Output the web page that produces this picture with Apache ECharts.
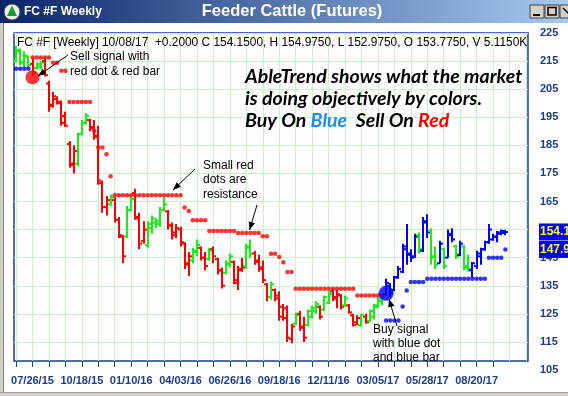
<!DOCTYPE html>
<html><head><meta charset="utf-8">
<script src="https://cdn.jsdelivr.net/npm/echarts@6/dist/echarts.min.js"></script>
<style>html,body{margin:0;padding:0;background:#fff}#c{width:568px;height:396px}</style>
</head><body><div id="c"></div>
<script>
// ---------- DATA ----------
// weekly categories starting 06/28/15 (125 slots incl. right padding)
const firstWeek = [2015, 5, 28];
const slotCount = 125;
const categories = [];
for (let k = 0; k < slotCount; k++) {
  const d = new Date(Date.UTC(firstWeek[0], firstWeek[1], firstWeek[2] + 7 * k));
  const mm = String(d.getUTCMonth() + 1).padStart(2, '0');
  const dd = String(d.getUTCDate()).padStart(2, '0');
  const yy = String(d.getUTCFullYear()).slice(2);
  categories.push(mm + '/' + dd + '/' + yy);
}
const yTicks = [105, 225, 10];

// [open, high, low, close] per week
const ohlc = [
 [215.5,220.5,214.5,219.0],[218.5,219.5,213.5,214.5],[214.5,218.5,213.0,217.0],[216.5,217.0,212.5,213.5],[214.0,216.0,210.0,211.0],
 [212.5,214.5,212.0,214.0],[213.0,215.0,212.0,214.5],[215.0,216.0,209.5,210.0],[207.0,208.0,197.0,199.0],[199.5,204.0,198.5,202.5],
 [201.5,202.5,199.5,200.0],[200.5,201.0,192.0,193.0],[195.5,197.0,191.5,192.0],[185.5,186.5,177.0,178.0],[178.5,185.0,175.0,183.0],
 [178.5,189.5,177.5,189.0],[189.0,194.0,188.5,193.0],[193.0,196.5,192.5,195.5],[194.0,194.5,190.0,191.0],[191.5,194.0,187.0,188.0],
 [188.5,192.0,171.0,172.5],[171.5,172.5,161.0,163.0],[163.0,167.0,160.0,165.5],[164.0,167.5,163.5,166.5],[165.5,166.5,157.5,158.5],
 [158.5,159.5,152.0,153.0],[152.5,153.0,143.0,145.5],[152.5,163.5,152.0,162.0],[162.0,167.0,161.5,166.0],[168.0,169.5,158.5,159.5],
 [159.0,161.0,148.0,150.0],[151.0,158.0,150.0,155.0],[149.5,158.0,148.5,157.0],[155.5,160.0,153.5,159.0],[157.5,159.0,155.5,158.0],
 [157.0,163.0,156.0,162.0],[162.0,166.5,161.5,164.0],[161.5,162.0,155.0,156.5],[156.5,157.5,151.5,153.0],[154.0,157.0,152.0,155.5],
 [155.0,156.0,149.0,150.5],[150.0,150.5,141.0,142.5],[143.0,147.0,138.5,145.5],[144.0,148.5,143.0,147.5],[147.0,151.5,145.5,149.5],
 [148.5,149.0,144.0,145.0],[145.0,147.0,140.5,142.0],[144.5,148.5,144.0,147.5],[148.0,149.0,143.0,145.5],[144.5,145.0,139.0,140.5],
 [140.5,141.5,134.0,135.0],[139.5,144.0,139.0,143.0],[142.5,146.5,141.5,145.5],[143.5,144.0,135.5,137.0],[136.0,142.0,133.5,140.5],
 [141.0,145.0,140.0,141.5],[142.0,150.0,141.0,149.0],[148.5,151.5,145.0,146.5],[146.5,147.5,142.5,143.5],[144.0,146.0,140.0,141.0],
 [141.5,144.0,136.0,137.0],[135.5,136.0,129.5,131.0],[131.0,136.5,130.0,135.5],[133.5,134.0,129.5,130.5],[131.5,133.0,122.5,124.0],
 [127.5,128.5,122.5,123.5],[127.0,128.0,115.0,116.5],[116.0,121.5,114.5,120.5],[121.5,125.5,121.0,124.5],[125.0,126.0,119.0,120.0],
 [120.5,124.0,115.0,116.5],[121.0,126.5,120.5,126.0],[124.0,128.0,123.5,127.0],[126.0,129.5,125.0,128.5],[127.5,128.0,123.0,124.0],
 [126.5,131.5,126.0,131.0],[129.0,133.0,128.5,132.0],[133.0,134.0,129.5,130.5],[131.0,133.5,127.0,132.0],[131.5,132.0,126.5,127.5],
 [128.0,131.5,127.5,130.5],[128.0,128.5,125.0,125.5],[124.5,125.0,120.5,121.0],[122.0,124.5,121.0,123.5],[121.0,125.0,120.5,124.5],
 [124.0,125.0,121.5,122.0],[122.5,126.5,122.0,126.0],[124.0,128.5,123.0,128.0],[127.5,131.0,127.0,130.5],[129.5,131.5,128.0,131.0],
 [132.0,137.5,131.5,136.0],[135.0,136.0,131.0,132.5],[133.5,138.5,133.0,138.0],[138.0,142.0,137.5,141.0],[140.0,150.0,139.5,149.0],
 [148.0,157.0,142.5,146.0],[146.5,148.0,143.5,145.0],[145.5,153.5,145.0,152.5],[153.0,154.0,146.5,148.0],[147.5,159.5,147.0,158.0],
 [157.5,160.5,152.0,154.0],[154.5,155.5,142.5,145.0],[145.5,149.0,141.0,142.5],[143.0,151.0,143.0,150.0],[148.0,148.5,141.0,142.0],
 [145.0,155.0,145.0,153.5],[153.0,155.5,150.5,151.5],[149.0,149.5,144.5,145.5],[146.0,151.0,145.5,150.0],[149.0,149.5,140.5,141.5],
 [142.0,146.0,140.0,141.0],[140.5,143.5,138.0,143.0],[142.0,147.5,141.0,146.5],[145.5,148.5,142.5,148.0],[148.0,151.0,147.5,150.5],
 [150.5,157.0,150.0,155.0],[151.5,153.5,151.0,152.5],[152.5,154.5,150.5,154.0],[153.5,155.0,153.0,154.5],[153.775,154.975,152.975,154.15]
];
// trend colour per bar: r = red, g = green, b = blue
const trend = ('ggggrggrrrrrrrrgggrr' + 'rrrgrrrggrrrgggggrrr' + 'rrrggrrgrrrggrrrggrr' +
               'rrgrrrrrgrrgggrggrrr' + 'grrrgrggggbbbbbbbbgb' + 'bggbgbbgbggbbbbbbbbb').split('');
// red resistance dots
const resistance = [
 null,null,null,null,216.3,216.3,216.3,216.3,216.3,214.4,
 214.4,211.6,211.6,200.4,200.4,200.4,200.4,200.4,200.4,190.1,
 184.2,184.2,181.8,174.0,167.2,167.2,167.2,167.2,167.2,167.2,
 167.2,167.2,167.2,167.2,167.2,167.2,167.2,167.2,167.2,167.2,
 167.2,162.9,161.6,158.3,158.3,158.3,158.3,154.5,154.5,154.5,
 154.5,154.5,154.5,154.5,153.8,153.8,153.8,153.8,153.8,153.8,
 152.6,152.6,146.4,146.4,145.2,143.4,139.9,139.9,133.9,133.9,
 133.9,133.9,133.9,133.9,133.9,133.9,133.9,133.9,133.9,133.9,
 133.9,133.9,133.9,131.5,131.5,131.5,131.5,131.5,131.5,131.5
];
// blue support dots
const support = [
 212.3,212.3,212.3,212.3,null,null,null,null,null,null,
 null,null,null,null,null,null,null,null,null,null,
 null,null,null,null,null,null,null,null,null,null,
 null,null,null,null,null,null,null,null,null,null,
 null,null,null,null,null,null,null,null,null,null,
 null,null,null,null,null,null,null,null,null,null,
 null,null,null,null,null,null,null,null,null,null,
 null,null,null,null,null,null,null,null,null,null,
 null,null,null,null,null,null,null,null,null,null,
 122.6,122.6,122.6,122.6,127.6,133.3,136.3,136.3,136.3,136.3,
 137.5,137.5,137.5,137.5,137.5,137.5,137.5,137.5,137.5,137.5,
 137.5,137.5,137.5,137.5,137.5,145.0,145.0,145.0,145.0,147.93
];
const sellSignal = [[4, 209.2]];
const buySignal = [[90, 132.3]];
const lastValues = [154.15, 147.93];

// ---------- STYLE ----------
const navy = '#1b3b8b';
const gridGreen = '#c8f1c8';
const trendColor = { r: '#ff0000', g: '#14f014', b: '#0000ff' };
const splitColors = ['rgba(0,0,0,0)'];
for (let k = 0; k < 12; k++) splitColors.push(gridGreen);

const chart = echarts.init(document.getElementById('c'));

const toPairs = arr => arr.map((v, i) => v == null ? null : [i, v]).filter(Boolean);

chart.setOption({
  animation: false,
  backgroundColor: '#ffffff',
  grid: [
    { left: 14, right: 40, top: 33, bottom: 26 },
    { left: 16.056, right: 42.056, top: 33, bottom: 35 },
    { left: 14, right: 40, top: 33, bottom: 35, show: true, borderColor: navy, borderWidth: 1.5, backgroundColor: 'rgba(0,0,0,0)' }
  ],
  xAxis: [
    { gridIndex: 0, type: 'category', data: categories, boundaryGap: true, show: false },
    { gridIndex: 1, type: 'category', data: categories, boundaryGap: false,
      axisLine: { show: false },
      axisTick: { show: true, length: 6, interval: (idx) => idx % 4 === 0 && idx <= 116, lineStyle: { color: navy, width: 1 } },
      axisLabel: { interval: (idx) => idx % 12 === 4 && idx <= 112, color: navy, fontWeight: 'bold', fontSize: 11, fontFamily: 'Liberation Sans', margin: 14 },
      splitLine: { show: true, interval: (idx) => idx % 4 === 0, lineStyle: { color: gridGreen, width: 1 } } },
    { gridIndex: 2, type: 'category', data: categories, show: false }
  ],
  yAxis: [
    { gridIndex: 0, type: 'value', min: yTicks[0], max: yTicks[1], interval: yTicks[2], position: 'right',
      axisLine: { show: false }, axisTick: { show: false },
      axisLabel: { color: navy, fontWeight: 'bold', fontSize: 11, fontFamily: 'Liberation Sans', margin: 12 },
      splitLine: { show: true, lineStyle: { color: splitColors, width: 1 } } },
    { gridIndex: 1, type: 'value', min: 0, max: 1, show: false },
    { gridIndex: 2, type: 'value', min: 0, max: 1, show: false }
  ],
  series: [
    { type: 'custom', name: 'bars', xAxisIndex: 0, yAxisIndex: 0, silent: true, z: 3,
      data: ohlc.map((b, i) => [i, b[0], b[1], b[2], b[3]]),
      encode: { x: 0, y: [1, 2, 3, 4] },
      renderItem: function (params, api) {
        const i = api.value(0);
        const o = api.coord([i, api.value(1)]);
        const h = api.coord([i, api.value(2)]);
        const l = api.coord([i, api.value(3)]);
        const c = api.coord([i, api.value(4)]);
        const x = Math.round(h[0]);
        const st = { stroke: trendColor[trend[i]], lineWidth: 2 };
        return { type: 'group', children: [
          { type: 'line', shape: { x1: x, y1: h[1], x2: x, y2: l[1] }, style: st },
          { type: 'line', shape: { x1: x - 3, y1: o[1], x2: x, y2: o[1] }, style: st },
          { type: 'line', shape: { x1: x, y1: c[1], x2: x + 3, y2: c[1] }, style: st }
        ] };
      } },
    { type: 'scatter', name: 'resistance', xAxisIndex: 0, yAxisIndex: 0, silent: true, z: 4,
      symbol: 'circle', symbolSize: 4.5, itemStyle: { color: '#ff0000' }, data: toPairs(resistance) },
    { type: 'scatter', name: 'support', xAxisIndex: 0, yAxisIndex: 0, silent: true, z: 4,
      symbol: 'circle', symbolSize: 4.5, itemStyle: { color: '#0000ff' }, data: toPairs(support) },
    { type: 'scatter', name: 'sell', xAxisIndex: 0, yAxisIndex: 0, silent: true, z: 5,
      symbolSize: 14, itemStyle: { color: '#ff0000' }, data: sellSignal },
    { type: 'scatter', name: 'buy', xAxisIndex: 0, yAxisIndex: 0, silent: true, z: 5,
      symbolSize: 15, itemStyle: { color: '#0000ff' }, data: buySignal }
  ]
});

// ---------- GRAPHICS (frame, title bar, annotations) ----------
const g = [];
function txt(x, y, text, font, fill, align) {
  g.push({ type: 'text', x: x, y: y, z: 20, silent: true,
    style: { text: text, font: font, fill: fill || '#000', align: align || 'left', verticalAlign: 'middle' } });
}
function arrow(x1, y1, x2, y2) {
  g.push({ type: 'line', z: 20, silent: true, shape: { x1: x1, y1: y1, x2: x2, y2: y2 }, style: { stroke: '#000', lineWidth: 1 } });
  const a = Math.atan2(y2 - y1, x2 - x1), L = 8, W = 3.2;
  const bx = x2 - L * Math.cos(a), by = y2 - L * Math.sin(a);
  g.push({ type: 'polygon', z: 20, silent: true, shape: { points: [[x2, y2],
    [bx + W * Math.sin(a), by - W * Math.cos(a)], [bx - W * Math.sin(a), by + W * Math.cos(a)]] }, style: { fill: '#000' } });
}
// window frame
g.push({ type: 'rect', z: 19, silent: true, shape: { x: 0, y: 23, width: 3, height: 373 }, style: { fill: '#d4d0c8' } });
g.push({ type: 'line', z: 19, silent: true, shape: { x1: 3.5, y1: 23, x2: 3.5, y2: 396 }, style: { stroke: '#808080', lineWidth: 1 } });
g.push({ type: 'rect', z: 19, silent: true, shape: { x: 0, y: 393, width: 568, height: 3 }, style: { fill: '#d4d0c8' } });
g.push({ type: 'line', z: 19, silent: true, shape: { x1: 0, y1: 392.5, x2: 568, y2: 392.5 }, style: { stroke: '#a0a0a0', lineWidth: 1 } });
// title bar
g.push({ type: 'rect', z: 19, silent: true, shape: { x: 0, y: 0, width: 568, height: 23 },
  style: { fill: new echarts.graphic.LinearGradient(0, 0, 1, 0, [{ offset: 0, color: '#0a246a' }, { offset: 1, color: '#a6caf0' }]) } });
g.push({ type: 'circle', z: 20, silent: true, shape: { cx: 12, cy: 12, r: 8 }, style: { fill: '#e9ece9', stroke: '#4a4a4a', lineWidth: 1 } });
g.push({ type: 'polygon', z: 21, silent: true, shape: { points: [[12, 5.5], [17, 16], [7, 16]] }, style: { fill: '#1f9a32' } });
txt(24, 12, 'FC #F Weekly', 'bold 12px "Liberation Sans"', '#ffffff');
txt(292, 11.5, 'Feeder Cattle (Futures)', 'bold 16.5px "Liberation Sans"', '#ffffff', 'center');
[530, 545].forEach(function (bx) {
  g.push({ type: 'rect', z: 20, silent: true, shape: { x: bx, y: 5, width: 14, height: 13 }, style: { fill: '#d4d0c8', stroke: '#404040', lineWidth: 1 } });
});
g.push({ type: 'rect', z: 20, silent: true, shape: { x: 560, y: 5, width: 14, height: 13 }, style: { fill: '#d4d0c8', stroke: '#404040', lineWidth: 1 } });
g.push({ type: 'line', z: 21, silent: true, shape: { x1: 533, y1: 15, x2: 540, y2: 15 }, style: { stroke: '#000', lineWidth: 2 } });
g.push({ type: 'rect', z: 21, silent: true, shape: { x: 548, y: 7.5, width: 8, height: 7.5 }, style: { fill: 'none', stroke: '#000', lineWidth: 1.5 } });
g.push({ type: 'line', z: 21, silent: true, shape: { x1: 563, y1: 8, x2: 570, y2: 15 }, style: { stroke: '#000', lineWidth: 1.5 } });

// header line inside plot
txt(17, 43, 'FC #F [Weekly] 10/08/17  +0.2000 C 154.1500, H 154.9750, L 152.9750, O 153.7750, V 5.1150K', '11.9px "Liberation Sans"', '#000');
// sell annotation
txt(70, 57, 'Sell signal with', '12px "Liberation Sans"');
txt(70, 72, 'red dot & red bar', '12px "Liberation Sans"');
arrow(68, 55, 38, 76);
// resistance annotation
txt(203, 166, 'Small red', '12px "Liberation Sans"');
txt(203, 180, 'dots are', '12px "Liberation Sans"');
txt(203, 195, 'resistance', '12px "Liberation Sans"');
arrow(195, 169, 173, 190);
arrow(257, 205, 249.5, 230);
// buy annotation
txt(373, 330, 'Buy signal', '12px "Liberation Sans"');
txt(373, 344, 'with blue dot', '12px "Liberation Sans"');
txt(373, 358, 'and blue bar', '12px "Liberation Sans"');
arrow(397, 326, 389, 299);
// headline
const hf = 'italic bold 19.5px Lato';
txt(245, 77, 'AbleTrend shows what the market', hf);
txt(245, 99, 'is doing objectively by colors.', hf);
g.push({ type: 'text', x: 245, y: 121, z: 20, silent: true, style: {
  text: '{a|Buy On }{b|Blue}{a|  Sell On }{c|Red}', verticalAlign: 'middle', font: hf,
  rich: { a: { font: hf, fill: '#000' }, b: { font: hf, fill: '#1e8cf0' }, c: { font: hf, fill: '#ff0000' } } } });

// last-value boxes on the price axis
lastValues.forEach(function (v) {
  const py = chart.convertToPixel({ yAxisIndex: 0 }, v);
  g.push({ type: 'rect', z: 22, silent: true, shape: { x: 539, y: py - 8.5, width: 30, height: 17 }, style: { fill: '#0000ff' } });
  txt(540, py, v.toFixed(2), 'bold 12px "Liberation Sans"', '#ffff00');
  g[g.length - 1].z = 23;
});

chart.setOption({ graphic: g });
</script></body></html>
